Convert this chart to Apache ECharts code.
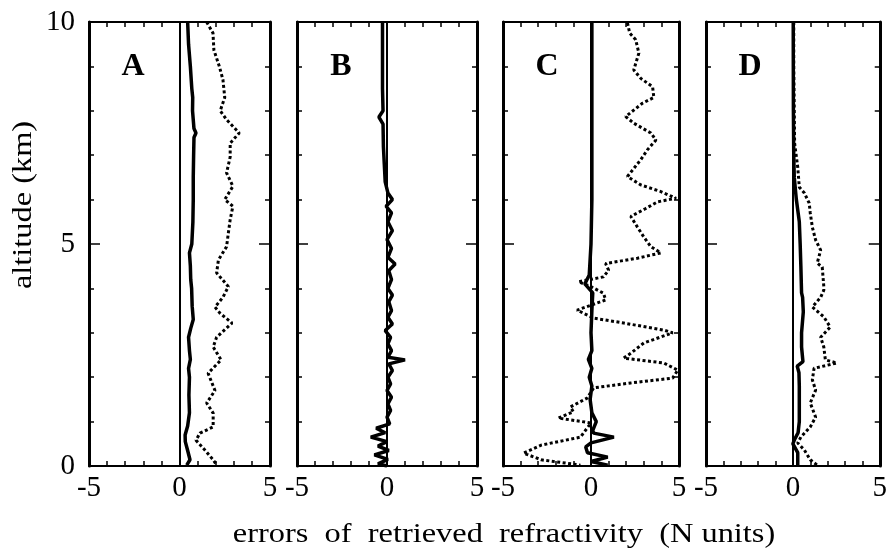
<!DOCTYPE html>
<html>
<head>
<meta charset="utf-8">
<script src="https://cdn.jsdelivr.net/npm/echarts@6/dist/echarts.min.js"></script>
<style>
  html, body { margin: 0; padding: 0; background: #fff; }
  #chart { width: 890px; height: 555px; }
</style>
</head>
<body>
<div id="chart"></div>
<script>
// Panel names and axis ticks
const panelNames = ['A', 'B', 'C', 'D'];
const xTicks = [-5, 0, 5];
const yTicks = [0, 5, 10];
const xTitle = 'errors  of  retrieved  refractivity  (N units)';
const yTitle = 'altitude (km)';

// Panel A: mean error (solid) and rms error (dotted), altitude in km
const altMeanA = [10.0, 9.5, 9.0, 8.5, 8.3, 8.0, 7.6, 7.5, 7.4, 7.0, 6.5, 6.0, 5.5, 5.0, 4.8, 4.5, 4.2, 4.0, 3.6, 3.3, 3.1, 2.9, 2.6, 2.4, 2.2, 2.0, 1.6, 1.2, 0.9, 0.7, 0.55, 0.35, 0.14, 0.02];
const meanA    = [0.45, 0.5, 0.6, 0.68, 0.73, 0.72, 0.8, 0.91, 0.8, 0.78, 0.76, 0.76, 0.74, 0.68, 0.55, 0.6, 0.62, 0.67, 0.7, 0.76, 0.62, 0.5, 0.55, 0.6, 0.5, 0.55, 0.52, 0.55, 0.45, 0.31, 0.32, 0.45, 0.58, 0.4];
const altRmsA  = [10.0, 9.75, 9.37, 9.0, 8.7, 8.3, 8.0, 7.8, 7.5, 7.27, 6.96, 6.6, 6.3, 6.0, 5.85, 5.55, 5.25, 4.94, 4.64, 4.35, 4.04, 3.8, 3.58, 3.44, 3.22, 2.9, 2.68, 2.39, 2.09, 1.7, 1.42, 1.19, 0.88, 0.74, 0.58, 0.36, 0.14, 0.02];
const rmsA     = [1.5, 1.85, 1.9, 2.2, 2.4, 2.5, 2.25, 2.6, 3.3, 2.8, 2.8, 2.6, 2.95, 2.5, 2.95, 2.8, 2.7, 2.6, 2.15, 2.05, 2.7, 2.4, 1.96, 2.24, 2.9, 2.05, 1.86, 2.3, 1.58, 1.96, 1.5, 1.86, 1.86, 1.13, 0.91, 1.4, 1.86, 2.05];

// Panel B: mean error only (rms lies on top of it)
const altMeanB = [10.0, 9.5, 9.0, 8.5, 8.0, 7.86, 7.7, 7.2, 6.8, 6.4, 6.15, 6.0, 5.85, 5.7, 5.5, 5.3, 5.1, 4.9, 4.7, 4.55, 4.4, 4.2, 4.0, 3.85, 3.7, 3.5, 3.35, 3.2, 3.05, 2.9, 2.75, 2.6, 2.45, 2.39, 2.3, 2.15, 2.0, 1.85, 1.7, 1.55, 1.4, 1.25, 1.1, 0.95, 0.85, 0.75, 0.65, 0.55, 0.45, 0.35, 0.25, 0.15, 0.05, 0.0];
const meanB    = [-0.25, -0.25, -0.25, -0.25, -0.22, -0.45, -0.22, -0.2, -0.15, -0.1, 0.05, 0.3, -0.05, 0.25, 0.05, 0.3, 0.0, 0.25, 0.05, 0.45, 0.1, 0.25, 0.05, 0.3, 0.1, 0.25, 0.05, 0.3, -0.1, 0.2, 0.05, 0.25, 0.05, 1.0, 0.1, 0.3, 0.05, 0.2, 0.0, 0.25, 0.05, 0.2, 0.0, 0.15, -0.6, -0.1, -0.9, 0.0, -0.5, 0.1, -0.7, 0.05, -0.5, 0.0];

// Panel C
const altMeanC = [10.0, 8.0, 6.0, 5.0, 4.3, 4.1, 3.9, 3.5, 3.0, 2.6, 2.4, 2.2, 2.0, 1.8, 1.5, 1.2, 1.0, 0.8, 0.74, 0.65, 0.52, 0.43, 0.3, 0.2, 0.1, 0.02];
const meanC    = [0.05, 0.05, 0.05, 0.0, -0.1, -0.35, 0.1, 0.05, 0.0, 0.05, -0.15, 0.05, -0.1, 0.05, -0.05, 0.05, 0.3, 0.1, 0.15, 1.3, 0.0, -0.3, -0.2, 0.95, 0.0, 0.95];
const altRmsC  = [9.98, 9.75, 9.6, 9.3, 8.92, 8.73, 8.54, 8.3, 8.17, 7.87, 7.72, 7.5, 7.34, 7.12, 6.9, 6.52, 6.33, 6.18, 6.03, 5.95, 5.8, 5.62, 5.38, 5.16, 4.94, 4.8, 4.68, 4.56, 4.41, 4.26, 4.15, 4.04, 3.89, 3.74, 3.51, 3.33, 3.22, 3.06, 3.0, 2.77, 2.54, 2.43, 2.32, 2.16, 1.98, 1.87, 1.76, 1.53, 1.33, 1.22, 1.08, 0.97, 0.65, 0.47, 0.29, 0.14, 0.02];
const rmsC     = [2.07, 2.2, 2.54, 2.72, 2.43, 2.83, 3.5, 3.57, 2.92, 1.97, 2.43, 3.4, 3.69, 3.2, 2.83, 2.07, 2.83, 3.97, 4.83, 3.78, 3.11, 2.26, 2.64, 3.0, 3.4, 3.97, 2.64, 0.83, 1.0, 0.71, -0.71, 0.0, 0.71, 0.83, -0.79, 0.15, 1.86, 4.14, 4.64, 3.0, 2.26, 1.86, 4.14, 4.93, 4.64, 2.26, 0.15, -0.22, -1.17, -1.0, -1.86, 0.0, -0.6, -2.83, -3.83, -2.83, -0.6];

// Panel D
const altMeanD = [10.0, 8.0, 7.0, 6.5, 6.0, 5.5, 5.0, 4.5, 3.9, 3.8, 3.47, 3.0, 2.68, 2.35, 2.25, 2.1, 1.8, 1.4, 1.0, 0.75, 0.6, 0.5, 0.3, 0.02];
const meanD    = [0.02, 0.03, 0.05, 0.08, 0.2, 0.37, 0.42, 0.46, 0.5, 0.56, 0.6, 0.5, 0.5, 0.58, 0.25, 0.35, 0.37, 0.37, 0.37, 0.3, 0.1, 0.0, 0.28, 0.28];
const altRmsD  = [10.0, 9.0, 8.0, 7.27, 6.73, 6.28, 6.15, 5.92, 5.7, 5.38, 5.09, 4.86, 4.57, 4.48, 4.04, 3.96, 3.8, 3.58, 3.36, 3.13, 2.9, 2.68, 2.39, 2.32, 2.2, 1.94, 1.71, 1.42, 1.1, 0.88, 0.65, 0.52, 0.36, 0.14, 0.02];
const rmsD     = [0.05, 0.05, 0.08, 0.1, 0.28, 0.37, 0.66, 0.94, 1.0, 1.12, 1.31, 1.6, 1.4, 1.69, 1.78, 1.78, 1.6, 1.12, 1.78, 2.15, 1.6, 1.78, 1.87, 2.53, 1.22, 1.12, 1.31, 1.0, 1.31, 1.0, 0.46, 0.28, 0.66, 1.0, 1.4];

const meanSets = [[meanA, altMeanA], [meanB, altMeanB], [meanC, altMeanC], [meanD, altMeanD]];
const rmsSets  = [[rmsA, altRmsA], null, [rmsC, altRmsC], [rmsD, altRmsD]];

// Panel frames (pixels)
const frames = [
  { left: 89,  width: 181 },
  { left: 297, width: 180 },
  { left: 503, width: 176 },
  { left: 706, width: 177 }
];
const frameTop = 22, frameHeight = 444;

const FONT = '"Liberation Serif", "Times New Roman", serif';
const pairs = (vals, alts) => vals.map((v, i) => [v, alts[i]]);

const grid = [], xAxis = [], yAxis = [], series = [], graphic = [];

frames.forEach((f, i) => {
  grid.push({ left: f.left, top: frameTop, width: f.width, height: frameHeight });
  const xBase = {
    type: 'value', gridIndex: i, min: xTicks[0], max: xTicks[2], interval: 5,
    axisLine: { show: true, onZero: false, lineStyle: { color: '#000', width: 2 } },
    axisTick: { show: true, inside: true, length: 5, lineStyle: { color: '#000', width: 1.5 } },
    minorTick: { show: true, splitNumber: 5, length: 5, lineStyle: { color: '#000', width: 1.5 } },
    splitLine: { show: false }
  };
  xAxis.push(Object.assign({}, xBase, {
    position: 'bottom',
    axisLabel: { show: true, fontFamily: FONT, fontSize: 29, color: '#000', margin: 8,
                 showMinLabel: true, showMaxLabel: true }
  }));
  xAxis.push(Object.assign({}, xBase, { position: 'top', axisLabel: { show: false } }));

  const yBase = {
    type: 'value', gridIndex: i, min: yTicks[0], max: yTicks[2], interval: 5,
    axisLine: { show: true, onZero: false, lineStyle: { color: '#000', width: 3 } },
    axisTick: { show: true, inside: true, length: 11, lineStyle: { color: '#000', width: 1.5 } },
    minorTick: { show: true, splitNumber: 5, length: 5, lineStyle: { color: '#000', width: 1.5 } },
    splitLine: { show: false }
  };
  yAxis.push(Object.assign({}, yBase, {
    position: 'left',
    axisLabel: { show: i === 0, fontFamily: FONT, fontSize: 29, color: '#000', margin: 14 }
  }));
  yAxis.push(Object.assign({}, yBase, { position: 'right', axisLabel: { show: false } }));

  const [mv, ma] = meanSets[i];
  series.push({
    type: 'line', xAxisIndex: 2 * i, yAxisIndex: 2 * i,
    data: pairs(mv, ma), showSymbol: false, symbol: 'none', smooth: false,
    lineStyle: { color: '#000', width: 3.5 },
    z: 3,
    markLine: {
      silent: true, symbol: 'none', label: { show: false },
      lineStyle: { color: '#000', width: 2, type: 'solid' },
      data: [{ xAxis: 0 }]
    }
  });
  if (rmsSets[i]) {
    const [rv, ra] = rmsSets[i];
    series.push({
      type: 'line', xAxisIndex: 2 * i, yAxisIndex: 2 * i,
      data: pairs(rv, ra), showSymbol: false, symbol: 'none', smooth: false,
      lineStyle: { color: '#000', width: 3, type: [3, 2.5] },
      z: 2
    });
  }

  // panel letter
  graphic.push({
    type: 'text', x: f.left + 44, y: frameTop + 45,
    style: { text: panelNames[i], fontFamily: FONT, fontWeight: 'bold', fontSize: 32, fill: '#000',
             align: 'center', verticalAlign: 'middle' }
  });
});

// axis titles (the serif face is set a little wide)
graphic.push({
  type: 'text', x: 504, y: 535, scaleX: 1.2,
  style: { text: xTitle, fontFamily: FONT, fontSize: 27, fill: '#000', align: 'center', verticalAlign: 'middle' }
});
graphic.push({
  type: 'text', x: 24, y: 205, rotation: Math.PI / 2, scaleX: 1.2,
  style: { text: yTitle, fontFamily: FONT, fontSize: 27, fill: '#000', align: 'center', verticalAlign: 'middle' }
});

const chart = echarts.init(document.getElementById('chart'), null, { renderer: 'canvas' });
chart.setOption({
  backgroundColor: '#fff',
  animation: false,
  grid, xAxis, yAxis, series, graphic
});
</script>
</body>
</html>
